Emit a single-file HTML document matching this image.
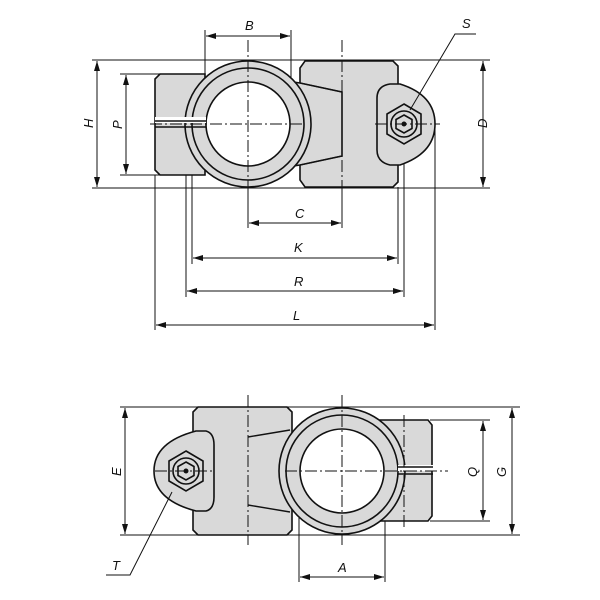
<!DOCTYPE html>
<html><head><meta charset="utf-8"><style>
html,body{margin:0;padding:0;background:#fff;}
svg{display:block;}
text{font-family:"Liberation Sans",sans-serif;font-style:italic;font-size:13px;fill:#111;}
</style></head><body>
<svg width="600" height="600" viewBox="0 0 600 600" xmlns="http://www.w3.org/2000/svg">
<defs>
<marker id="a" viewBox="0 0 10 6" refX="10" refY="3" markerWidth="10" markerHeight="6" orient="auto-start-reverse" markerUnits="userSpaceOnUse"><path d="M0,0 L10,3 L0,6z" fill="#111"/></marker>
</defs>
<g stroke="#111" fill="none" stroke-width="1">
<line x1="92" y1="60" x2="490" y2="60"/>
<line x1="92" y1="188" x2="490" y2="188"/>
<line x1="120" y1="74" x2="160" y2="74"/>
<line x1="120" y1="175" x2="160" y2="175"/>
<line x1="205" y1="30" x2="205" y2="100"/>
<line x1="291" y1="30" x2="291" y2="110"/>
<line x1="155" y1="175" x2="155" y2="330"/>
<line x1="186" y1="120" x2="186" y2="297"/>
<line x1="192" y1="130" x2="192" y2="264"/>
<line x1="398" y1="187" x2="398" y2="264"/>
<line x1="404" y1="140" x2="404" y2="297"/>
<line x1="435" y1="124" x2="435" y2="330"/>
<line x1="248" y1="188" x2="248" y2="228"/>
<line x1="342" y1="188" x2="342" y2="228"/>
</g>
<g stroke="#111" stroke-width="1.6" fill="#d9d9d9">
<path d="M160,74 L205,74 L205,175 L160,175 L155,170 L155,79 Z"/>
<path d="M305,61 L393,61 L398,66 L398,182 L393,187 L305,187 L300,180 L300,68 Z"/>
<path d="M280,80 L300,83 L342,92 L342,156 L300,165 L280,168 Z"/>
<path d="M390,84 L400,84 Q435,95 435,124 Q435,153 400,165 L390,165 Q377,162 377,150 L377,98 Q377,86 390,84 Z"/>
<circle cx="248" cy="124" r="63"/>
<circle cx="248" cy="124" r="56" fill="none"/>
<circle cx="248" cy="124" r="42" fill="#fff"/>
<polygon points="404,104 421,114 421,134 404,144 387,134 387,114" fill="#d9d9d9"/>
<circle cx="404" cy="124" r="13" fill="none"/>
<polygon points="404,115 412,119.5 412,128.5 404,133 396,128.5 396,119.5" fill="none"/>
</g>
<g stroke="#111" stroke-width="1.4">
<line x1="300" y1="83" x2="342" y2="92"/>
<line x1="300" y1="165" x2="342" y2="156"/>
<line x1="155" y1="120" x2="206" y2="120" stroke="#fff" stroke-width="6"/>
<line x1="155" y1="121" x2="206" y2="121"/>
<line x1="155" y1="127" x2="206" y2="127"/>
</g>
<circle cx="404" cy="124" r="2.5" fill="#111"/>
<g stroke="#111" stroke-width="1" stroke-dasharray="12,3,2,3" fill="none">
<line x1="150" y1="124" x2="305" y2="124"/>
<line x1="248" y1="40" x2="248" y2="200"/>
<line x1="342" y1="40" x2="342" y2="200"/>
<line x1="375" y1="124" x2="440" y2="124"/>
</g>
<g stroke="#111" stroke-width="1" marker-start="url(#a)" marker-end="url(#a)">
<line x1="206" y1="36" x2="290" y2="36"/>
<line x1="97" y1="61" x2="97" y2="187"/>
<line x1="126" y1="75" x2="126" y2="174"/>
<line x1="483" y1="61" x2="483" y2="187"/>
<line x1="249" y1="223" x2="341" y2="223"/>
<line x1="193" y1="258" x2="397" y2="258"/>
<line x1="187" y1="291" x2="403" y2="291"/>
<line x1="156" y1="325" x2="434" y2="325"/>
</g>
<polyline points="476,34 455,34 410,110" stroke="#111" fill="none"/>
<text x="245" y="30">B</text>
<text x="462" y="28">S</text>
<text x="295" y="218">C</text>
<text x="294" y="252">K</text>
<text x="294" y="286">R</text>
<text x="293" y="320">L</text>
<text transform="translate(93,128) rotate(-90)">H</text>
<text transform="translate(122,129) rotate(-90)">P</text>
<text transform="translate(487,128) rotate(-90)">D</text>

<g stroke="#111" fill="none" stroke-width="1">
<line x1="120" y1="407" x2="520" y2="407"/>
<line x1="120" y1="535" x2="520" y2="535"/>
<line x1="430" y1="420" x2="490" y2="420"/>
<line x1="430" y1="521" x2="490" y2="521"/>
<line x1="299" y1="480" x2="299" y2="582"/>
<line x1="385" y1="480" x2="385" y2="582"/>
</g>
<g stroke="#111" stroke-width="1.6" fill="#d9d9d9">
<path d="M380,420 L428,420 L432,425 L432,516 L428,521 L380,521 Z"/>
<path d="M198,407 L287,407 L292,412 L292,530 L287,535 L198,535 L193,530 L193,412 Z"/>
<path d="M196,431 L206,431 Q214,433 214,445 L214,497 Q214,509 206,511 L196,511 Q154,500 154,471 Q154,442 196,431 Z"/>
<circle cx="342" cy="471" r="63"/>
<circle cx="342" cy="471" r="56" fill="none"/>
<circle cx="342" cy="471" r="42" fill="#fff"/>
<polygon points="186,451 203,461 203,481 186,491 169,481 169,461"/>
<circle cx="186" cy="471" r="13" fill="none"/>
<polygon points="186,462 194,466.5 194,475.5 186,480 178,475.5 178,466.5" fill="none"/>
</g>
<g stroke="#111" stroke-width="1.4">
<line x1="248" y1="437" x2="290" y2="430"/>
<line x1="248" y1="505" x2="290" y2="512"/>
<line x1="398" y1="468" x2="433" y2="468" stroke="#fff" stroke-width="6"/>
<line x1="398" y1="467" x2="433" y2="467"/>
<line x1="398" y1="474" x2="433" y2="474"/>
</g>
<circle cx="186" cy="471" r="2.5" fill="#111"/>
<g stroke="#111" stroke-width="1" stroke-dasharray="12,3,2,3" fill="none">
<line x1="155" y1="471" x2="215" y2="471"/>
<line x1="285" y1="471" x2="448" y2="471"/>
<line x1="248" y1="395" x2="248" y2="545"/>
<line x1="342" y1="395" x2="342" y2="545"/>
<line x1="404" y1="415" x2="404" y2="528"/>
</g>
<g stroke="#111" stroke-width="1" marker-start="url(#a)" marker-end="url(#a)">
<line x1="125" y1="408" x2="125" y2="534"/>
<line x1="483" y1="421" x2="483" y2="520"/>
<line x1="512" y1="408" x2="512" y2="534"/>
<line x1="300" y1="577" x2="384" y2="577"/>
</g>
<polyline points="106,575 130,575 172,492" stroke="#111" fill="none"/>
<text x="338" y="572">A</text>
<text x="112" y="570">T</text>
<text transform="translate(121,476) rotate(-90)">E</text>
<text transform="translate(477,477) rotate(-90)">Q</text>
<text transform="translate(506,477) rotate(-90)">G</text>
</svg>
</body></html>
